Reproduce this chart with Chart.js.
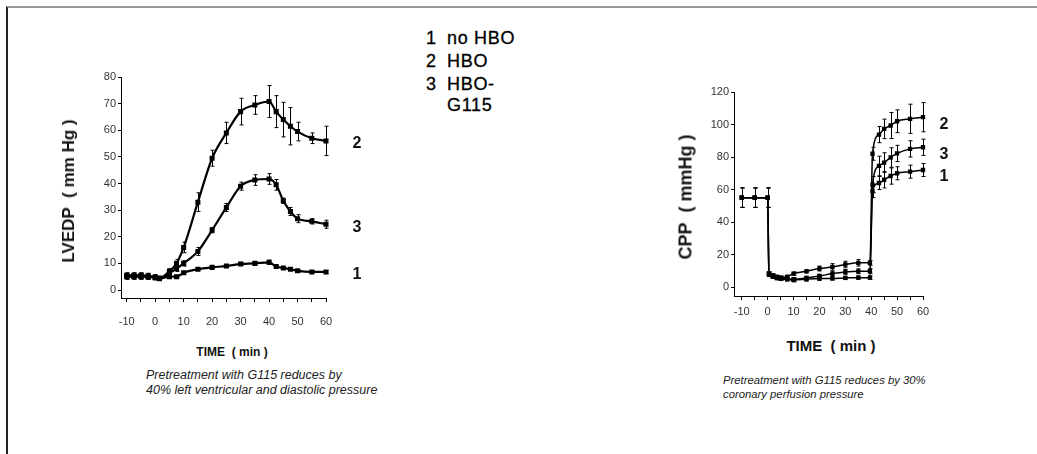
<!DOCTYPE html>
<html>
<head>
<meta charset="utf-8">
<script src="https://cdn.jsdelivr.net/npm/chart.js@4"></script>
<style>
  body { margin: 0; background: #fff; font-family: "Liberation Sans", Arial, sans-serif; }
  #page { position: relative; width: 1037px; height: 454px; overflow: hidden; }
  #frame { position: absolute; left: 6px; top: 6px; right: -2px; bottom: -2px;
           border-top: 2px solid #9a9a9a; border-left: 2px solid #222; }
  canvas { position: absolute; }
  .txt { position: absolute; color: #111; white-space: nowrap; }
  .ytitle { font-weight: bold; transform: translate(-50%, -50%) rotate(-90deg); }
  .xtitle { font-weight: bold; transform: translate(-50%, -50%); }
  .cap { font-style: italic; color: #222; }
  .leg { font-size: 18px; color: #000; letter-spacing: 0.7px; line-height: 20px; -webkit-text-stroke: 0.3px #000; }
</style>
</head>
<body>
<div id="page">
  <div id="frame"></div>

  <div class="txt leg" style="left:426px; top:28px;">1</div>
  <div class="txt leg" style="left:447px; top:28px;">no HBO</div>
  <div class="txt leg" style="left:426px; top:51px;">2</div>
  <div class="txt leg" style="left:447px; top:51px;">HBO</div>
  <div class="txt leg" style="left:426px; top:74px;">3</div>
  <div class="txt leg" style="left:447px; top:74px;">HBO-</div>
  <div class="txt leg" style="left:447px; top:95px;">G115</div>

  <canvas id="lvChart" width="360" height="280" style="left:20px; top:60px;"></canvas>
  <canvas id="cppChart" width="330" height="256" style="left:640px; top:75px;"></canvas>

  <div class="txt ytitle" style="left:69px; top:191px; font-size:17px;">LVEDP&nbsp;&nbsp;( mm Hg )</div>
  <div class="txt ytitle" style="left:686px; top:197px; font-size:18px;">CPP&nbsp;&nbsp;( mmHg )</div>
  <div class="txt xtitle" style="left:232px; top:352px; font-size:12px;">TIME&nbsp;&nbsp;( min )</div>
  <div class="txt xtitle" style="left:831px; top:345px; font-size:15px;">TIME&nbsp;&nbsp;( min )</div>

  <div class="txt cap" style="left:146px; top:368px; font-size:12.5px; line-height:15px;">Pretreatment with G115 reduces by<br>40% left ventricular and diastolic pressure</div>
  <div class="txt cap" style="left:723px; top:373px; font-size:11.3px; line-height:14px;">Pretreatment with G115 reduces by 30%<br>coronary perfusion pressure</div>
</div>

<script>
// left panel: LVEDP (mm Hg) vs time (min)
const lvTime    = [-10, -7.5, -5, -2.5, 0, 1.5, 5, 7.5, 10, 15, 20, 25, 30, 35, 40, 42.5, 45, 47.5, 50, 55, 60];
const lvNoHbo   = [5, 5, 5, 5, 4.8, 4.2, 5, 5, 6.5, 7.8, 8.5, 9, 9.8, 10, 10.4, 8.8, 8.3, 7.8, 7.2, 6.8, 6.8];
const lvNoHboErr= [1, 1, 1, 1, 0.5, 0.5, 0.5, 0.5, 0.5, 0.5, 0.5, 0.5, 0.6, 0.6, 0.8, 0.5, 0.5, 0.5, 0.5, 0.5, 0.5];
const lvHbo     = [5.5, 5.5, 5.5, 5.3, 4.8, 4.5, 7, 10, 16, 33, 49.5, 59, 67, 69.5, 70.8, 67, 64, 61.5, 59.5, 57, 56];
const lvHboErr  = [1, 1, 1, 1, 1, 0.5, 1, 1.5, 2, 3.5, 3, 4, 5, 3.5, 6, 6, 6.5, 7, 3.5, 2, 5.5];
const lvG115    = [5.2, 5.2, 5.2, 5, 4.6, 4.3, 6.3, 8, 10, 14.5, 22.5, 31, 39, 41.3, 41.7, 39.5, 33.5, 29.5, 26.8, 25.8, 24.7];
const lvG115Err = [1, 1, 1, 1, 0.5, 0.5, 1, 1, 1, 1.5, 1, 1.5, 1.5, 2, 2, 2, 1, 1.5, 1.5, 1, 1.5];

// right panel: CPP (mmHg) vs time (min)
const cppTime    = [-10, -5, 0, 0.5, 2, 3.5, 5, 7.5, 10, 15, 20, 25, 30, 35, 39.5, 40.5, 43, 45, 47.5, 50, 55, 60];
const cppNoHbo   = [55, 55, 55, 7.5, 6.3, 5.5, 5, 4.8, 4.3, 4.8, 5.2, 5.3, 5.6, 5.8, 5.8, 59, 64, 66, 68.3, 70, 71, 72];
const cppNoHboErr= [6, 6, 6, 1, 1, 1, 1, 1, 1, 1, 1, 1, 1, 1, 1, 4, 4, 5, 5, 4, 4, 4];
const cppHbo     = [55, 55, 55, 8.5, 7.2, 6.3, 5.8, 6.3, 8.3, 9.7, 11.4, 12.4, 13.9, 14.9, 14.9, 82, 93.8, 97.3, 99.4, 102, 103.5, 104.5];
const cppHboErr  = [6, 6, 6, 1, 1, 1, 1, 1, 1, 1, 1.5, 2, 2, 2, 1.5, 4, 5, 6, 8, 7, 9, 9];
const cppG115    = [55, 55, 55, 8, 6.8, 6, 5.5, 5.2, 4.8, 5.6, 6.8, 8.3, 9.3, 9.7, 9.9, 63, 74.5, 76.6, 79.7, 82.2, 85, 86];
const cppG115Err = [6, 6, 6, 1, 1, 1, 1, 1, 1, 1, 1, 1.5, 1.5, 1.5, 1.5, 5, 6, 6, 6, 5, 5, 5];

const timeTicks = [-10, -5, 0, 5, 10, 15, 20, 25, 30, 35, 40, 45, 50, 55, 60];
const lvTicks   = [0, 10, 20, 30, 40, 50, 60, 70, 80];
const cppTicks  = [0, 20, 40, 60, 80, 100, 120];

const FONT = '"Liberation Sans", Arial, sans-serif';

// vertical error bars + the "1 / 2 / 3" labels at the end of each curve
const extras = {
    id: 'extras',
    afterDatasetsDraw(chart, args, opts) {
        const ctx = chart.ctx;
        const xs = chart.scales.x, ys = chart.scales.y;
        ctx.save();
        chart.data.datasets.forEach(ds => {
            ctx.strokeStyle = '#000';
            ctx.lineWidth = 1;
            ds.data.forEach((p, i) => {
                const e = ds.errors[i];
                if (!e) return;
                const x = Math.round(xs.getPixelForValue(p.x)) + 0.5;
                const y1 = ys.getPixelForValue(p.y - e);
                const y2 = ys.getPixelForValue(p.y + e);
                ctx.beginPath();
                ctx.moveTo(x, y1); ctx.lineTo(x, y2);
                ctx.moveTo(x - 2, y1); ctx.lineTo(x + 2, y1);
                ctx.moveTo(x - 2, y2); ctx.lineTo(x + 2, y2);
                ctx.stroke();
            });
            const last = ds.data[ds.data.length - 1];
            ctx.fillStyle = '#111';
            ctx.font = 'bold 16px ' + FONT;
            ctx.textAlign = 'center';
            ctx.textBaseline = 'middle';
            ctx.fillText(ds.endLabel, chart.chartArea.right + opts.dx, ys.getPixelForValue(last.y) + opts.dy);
        });
        ctx.restore();
    }
};

function series(times, vals, errs, label, endLabel, width) {
    return {
        label: label,
        data: times.map((t, i) => ({ x: t, y: vals[i] })),
        errors: errs,
        endLabel: endLabel,
        borderColor: '#000',
        backgroundColor: '#000',
        borderWidth: width,
        pointRadius: 2,
        pointStyle: 'rect',
        cubicInterpolationMode: 'monotone',
        clip: false
    };
}

function panel(id, datasets, o) {
    new Chart(document.getElementById(id), {
        type: 'line',
        data: { datasets: datasets },
        options: {
            responsive: false,
            animation: false,
            layout: { padding: { top: o.padTop, right: o.padRight, left: 0, bottom: 0 } },
            plugins: { legend: { display: false }, tooltip: { enabled: false }, extras: { dx: o.labelDx, dy: o.labelDy } },
            scales: {
                x: {
                    type: 'linear', min: o.xMin, max: 60,
                    afterBuildTicks: ax => { ax.ticks = timeTicks.map(v => ({ value: v })); },
                    afterFit: s => { s.height = o.xHeight; },
                    ticks: { autoSkip: false, maxRotation: 0, padding: o.xPad, color: '#333',
                             font: { family: FONT, size: 11 },
                             callback: v => (v % 10 === 0 ? String(v) : '') },
                    grid: { drawOnChartArea: false, tickLength: 4, color: '#000' },
                    border: { color: '#000', width: 1 }
                },
                y: {
                    min: o.yMin, max: o.yMax,
                    afterBuildTicks: ax => { ax.ticks = o.yTicks.map(v => ({ value: v })); },
                    afterFit: s => { s.width = o.yWidth; },
                    ticks: { padding: 2, color: '#333', font: { family: FONT, size: 11 } },
                    grid: { drawOnChartArea: false, tickLength: 3, color: '#000' },
                    border: { color: '#000', width: 1 }
                }
            }
        },
        plugins: [extras]
    });
}

panel('lvChart', [
    series(lvTime, lvNoHbo, lvNoHboErr, 'no HBO', '1', 2.2),
    series(lvTime, lvHbo, lvHboErr, 'HBO', '2', 2.2),
    series(lvTime, lvG115, lvG115Err, 'HBO-G115', '3', 2.2)
], { xMin: -12, yMin: -3, yMax: 80, yTicks: lvTicks, yWidth: 101, xHeight: 42, xPad: 13,
     padTop: 17, padRight: 54, labelDx: 31, labelDy: 3 });

panel('cppChart', [
    series(cppTime, cppNoHbo, cppNoHboErr, 'no HBO', '1', 1.5),
    series(cppTime, cppHbo, cppHboErr, 'HBO', '2', 1.5),
    series(cppTime, cppG115, cppG115Err, 'HBO-G115', '3', 1.5)
], { xMin: -13, yMin: -5.5, yMax: 120, yTicks: cppTicks, yWidth: 94, xHeight: 35, xPad: 5,
     padTop: 17, padRight: 47, labelDx: 21, labelDy: 7 });
</script>
</body>
</html>
